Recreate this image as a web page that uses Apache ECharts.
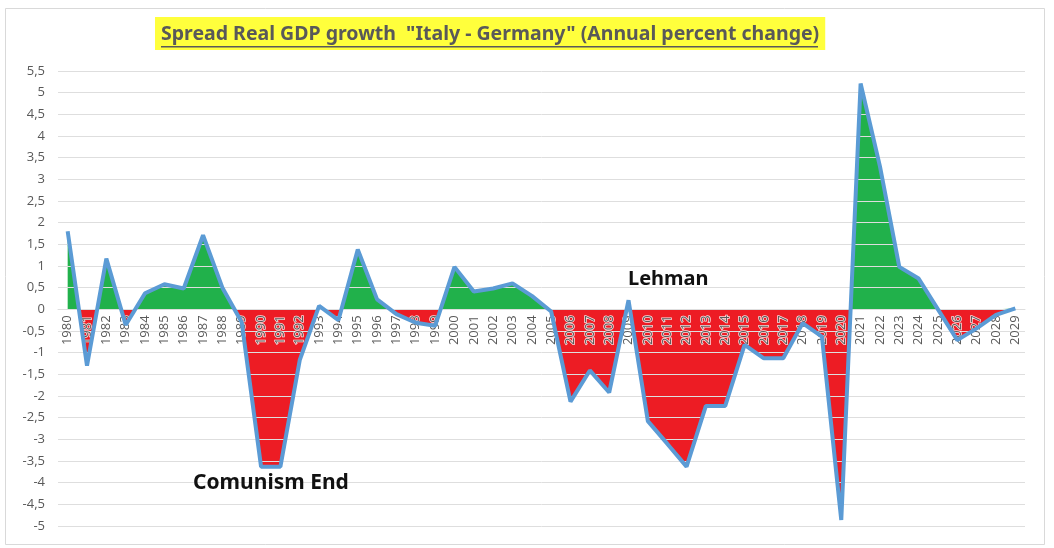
<!DOCTYPE html>
<html>
<head>
<meta charset="utf-8">
<script src="https://cdn.jsdelivr.net/npm/echarts@6/dist/echarts.min.js"></script>
<style>
  html, body { margin: 0; padding: 0; background: #fff; }
  #main { width: 1054px; height: 548px; }
</style>
</head>
<body>
<div id="main"></div>
<script>
// spread of real GDP growth, Italy minus Germany
var years = ['1980', '1981', '1982', '1983', '1984', '1985', '1986', '1987', '1988', '1989',
  '1990', '1991', '1992', '1993', '1994', '1995', '1996', '1997', '1998', '1999',
  '2000', '2001', '2002', '2003', '2004', '2005', '2006', '2007', '2008', '2009',
  '2010', '2011', '2012', '2013', '2014', '2015', '2016', '2017', '2018', '2019',
  '2020', '2021', '2022', '2023', '2024', '2025', '2026', '2027', '2028', '2029'];

var spread = [1.8, -1.3, 1.17, -0.36, 0.37, 0.58, 0.48, 1.71, 0.5, -0.3,
  -3.63, -3.63, -1.17, 0.08, -0.25, 1.38, 0.23, -0.11, -0.31, -0.38,
  0.98, 0.41, 0.48, 0.6, 0.31, -0.05, -2.13, -1.41, -1.92, 0.21,
  -2.58, -3.1, -3.63, -2.23, -2.23, -0.82, -1.13, -1.13, -0.32, -0.63,
  -4.86, 5.21, 3.3, 0.98, 0.71, 0, -0.71, -0.44, -0.13, 0.02];

var titleText = 'Spread Real GDP growth  "Italy - Germany" (Annual percent change)';
var notes = ['Comunism End', 'Lehman'];

var yMin = -5, yMax = 5.5;
var gridTop = 71, gridBottom = 22, chartH = 548;

// x axis sits on the zero line: shift it up from the bottom of the grid
var plotH = chartH - gridTop - gridBottom;
var zeroShift = plotH * (0 - yMin) / (yMax - yMin);

var chart = echarts.init(document.getElementById('main'));

// layers: area (0) -> axes/grid lines (1) -> blue line + notes (2)
var option = {
  backgroundColor: '#fff',
  animation: false,
  title: {
    text: titleText,
    left: 155,
    top: 17,
    backgroundColor: '#ffff3c',
    padding: [7, 6, 6, 6],
    textStyle: {
      fontFamily: 'Noto Sans',
      fontSize: 19.5,
      fontWeight: 'bold',
      color: '#595959'
    }
  },
  grid: {
    left: 58,
    right: 29,
    top: gridTop,
    bottom: gridBottom
  },
  visualMap: {
    show: false,
    type: 'piecewise',
    seriesIndex: 0,
    dimension: 1,
    pieces: [
      { gt: 0, lte: 100, color: '#21b14b' },
      { gt: -100, lte: 0, color: '#ed1c24' }
    ]
  },
  xAxis: {
    type: 'category',
    data: years,
    zlevel: 1,
    offset: -zeroShift,
    axisLine: { show: true, onZero: false, lineStyle: { color: '#dedede' } },
    axisTick: { show: false },
    axisLabel: {
      interval: 0,
      rotate: 90,
      margin: 6,
      fontFamily: 'Open Sans',
      fontSize: 13,
      color: '#595959',
      textBorderColor: 'rgba(255,255,255,0.85)',
      textBorderWidth: 1.5
    }
  },
  yAxis: {
    type: 'value',
    min: yMin,
    max: yMax,
    interval: 0.5,
    zlevel: 1,
    axisLine: { show: false },
    axisTick: { show: false },
    axisLabel: {
      margin: 13,
      fontFamily: 'Open Sans',
      fontSize: 13,
      color: '#595959',
      formatter: function (v) {
        return String(v).replace('.', ',');
      }
    },
    splitLine: {
      lineStyle: { color: '#dedede', width: 1 }
    }
  },
  series: [{
    name: 'area',
    type: 'line',
    data: spread,
    zlevel: 0,
    showSymbol: false,
    lineStyle: { width: 0 },
    areaStyle: { opacity: 1 }
  }, {
    name: 'spread',
    type: 'line',
    data: spread,
    zlevel: 2,
    showSymbol: false,
    lineStyle: { color: '#5b9bd5', width: 4 }
  }],
  graphic: [{
    type: 'rect',
    zlevel: 0,
    shape: { x: 5.5, y: 8.5, width: 1039, height: 536 },
    style: { fill: null, stroke: '#d9d9d9', lineWidth: 1 }
  }, {
    type: 'rect',
    zlevel: 2,
    shape: { x: 161, y: 46, width: 657, height: 1.5 },
    style: { fill: '#595959' }
  }, {
    type: 'text',
    zlevel: 2,
    left: 193,
    top: 473,
    style: {
      text: notes[0],
      font: 'bold 21px Noto Sans',
      fill: '#111'
    }
  }, {
    type: 'text',
    zlevel: 2,
    left: 628,
    top: 269,
    style: {
      text: notes[1],
      font: 'bold 20px Noto Sans',
      fill: '#111'
    }
  }]
};

chart.setOption(option);
</script>
</body>
</html>
